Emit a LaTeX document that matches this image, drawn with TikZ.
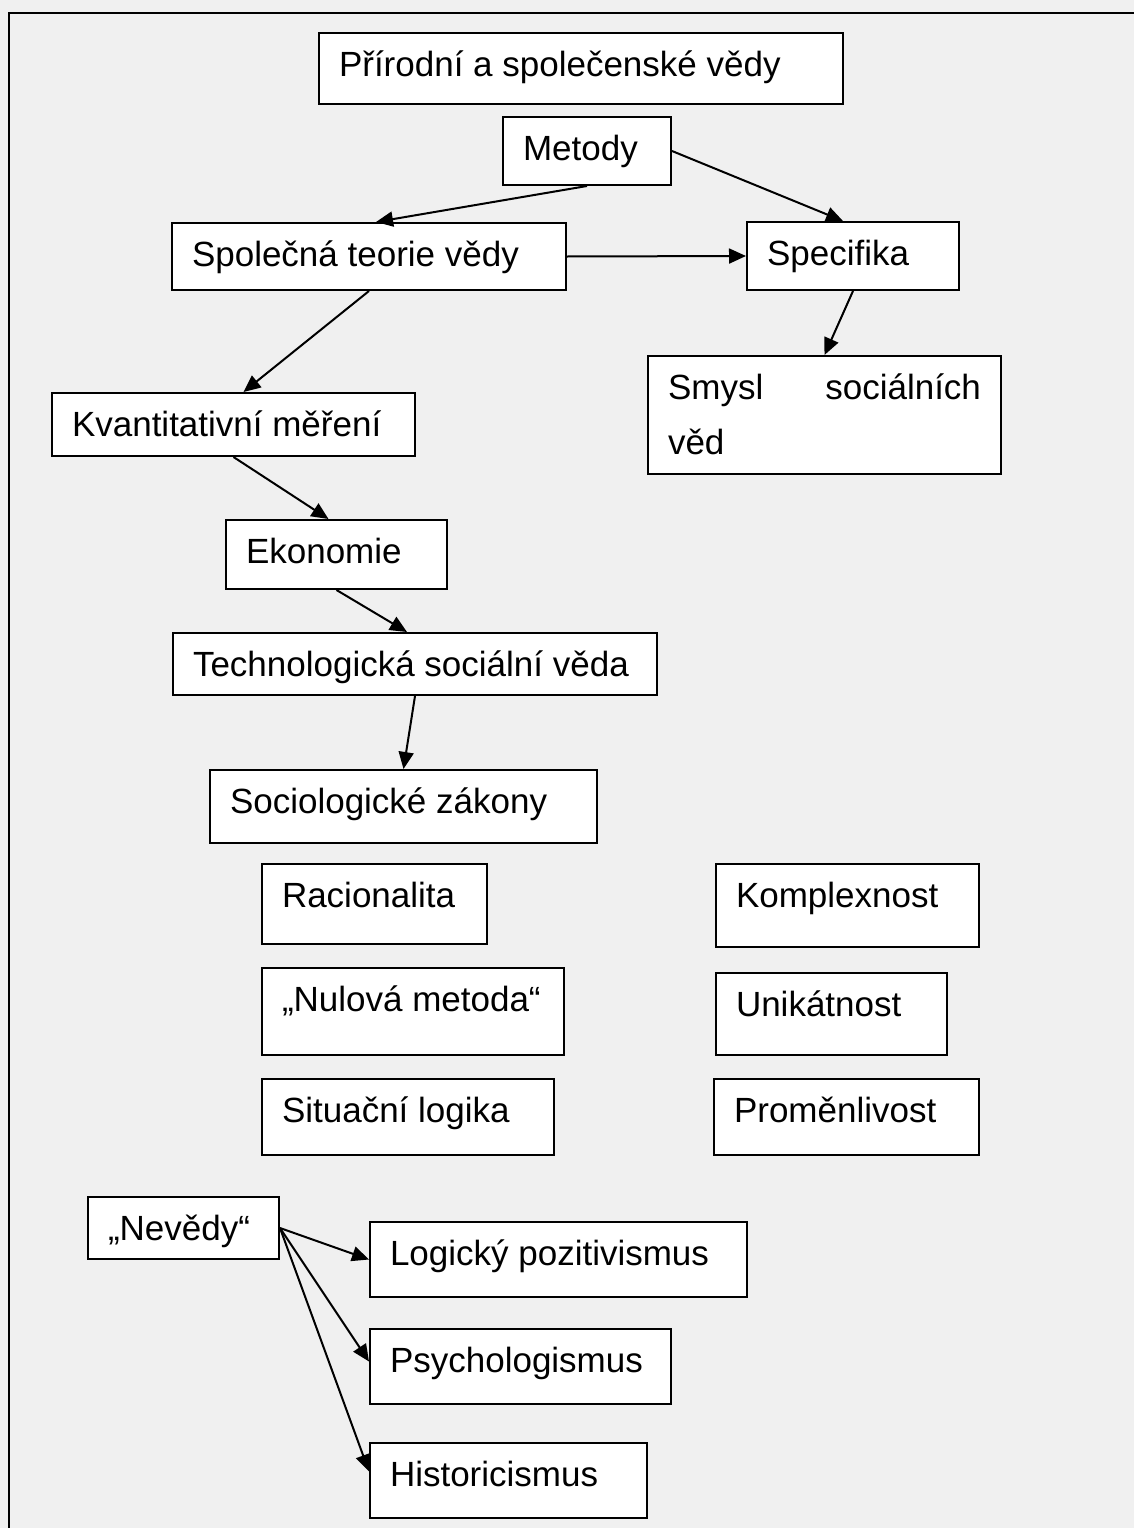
\documentclass[tikz,border=0pt]{standalone}
\usepackage{fontspec}
\setmainfont{Liberation Sans}
\usetikzlibrary{arrows.meta}

\definecolor{pagegray}{HTML}{F0F0F0}

\tikzset{
  % text box: width and depth below the first baseline are passed in
  cbox/.style 2 args={draw=black, fill=white, line width=2pt,
    anchor=north west, inner xsep=20pt, inner ysep=0pt,
    text width=#1pt, text height=43pt, text depth=#2pt,
    align=flush left, font=\fontsize{35}{55}\selectfont},
  arr/.style={line width=2pt, -{Triangle[length=17pt,width=15pt]}},
}

\begin{document}
\begin{tikzpicture}[x=1pt,y=-1pt]
  \fill[pagegray] (0,0) rectangle (1134,1528);
  \useasboundingbox (0,0) rectangle (1134,1528);

  % frame
  \draw[line width=2pt] (1134,13) -- (9,13) -- (9,1528);

  % boxes: (left, top), text width = W-40, depth = H-43
  \node[cbox={484}{28}] (pr) at (318,32)   {Přírodní a společenské vědy};
  \node[cbox={128}{25}] (me) at (502,116)  {Metody};
  \node[cbox={354}{24}] (sp) at (171,222)  {Společná teorie vědy};
  \node[cbox={172}{25}] (sf) at (746,221)  {Specifika};
  \node[cbox={313}{75}] (sm) at (647,355)  {Smysl\hspace{0pt plus 1filll}sociálních\\věd};
  \node[cbox={323}{20}] (kv) at (51,392)   {Kvantitativní měření};
  \node[cbox={181}{26}] (ek) at (225,519)  {Ekonomie};
  \node[cbox={444}{19}] (te) at (172,632)  {Technologická sociální věda};
  \node[cbox={347}{30}] (so) at (209,769)  {Sociologické zákony};
  \node[cbox={185}{37}] (ra) at (261,863)  {Racionalita};
  \node[cbox={262}{44}] (nu) at (261,967)  {„Nulová metoda“};
  \node[cbox={252}{33}] (si) at (261,1078) {Situační logika};
  \node[cbox={223}{40}] (ko) at (715,863)  {Komplexnost};
  \node[cbox={191}{39}] (un) at (715,972)  {Unikátnost};
  \node[cbox={225}{33}] (pm) at (713,1078) {Proměnlivost};
  \node[cbox={151}{19}] (ne) at (87,1196)  {„Nevědy“};
  \node[cbox={337}{32}] (lo) at (369,1221) {Logický pozitivismus};
  \node[cbox={261}{32}] (ps) at (369,1328) {Psychologismus};
  \node[cbox={237}{32}] (hi) at (369,1442) {Historicismus};

  % connectors
  \draw[arr] (me.south) -- ([xshift=7pt]sp.north);
  \draw[arr] (me.east) -- ([xshift=-10pt]sf.north);
  \draw[arr] (sp.east) -- (sf.west);
  \draw[arr] (sp.south) -- ([xshift=10pt]kv.north);
  \draw[arr] (sf.south) -- (sm.north);
  \draw[arr] (kv.south) -- ([xshift=-8pt]ek.north);
  \draw[arr] (ek.south) -- ([xshift=-8pt]te.north);
  \draw[arr] (te.south) -- (so.north);
  \draw[arr] (ne.east) -- (lo.west);
  \draw[arr] (ne.east) -- ([yshift=5pt]ps.west);
  \draw[arr] (ne.east) -- ([yshift=9pt]hi.west);
\end{tikzpicture}
\end{document}
